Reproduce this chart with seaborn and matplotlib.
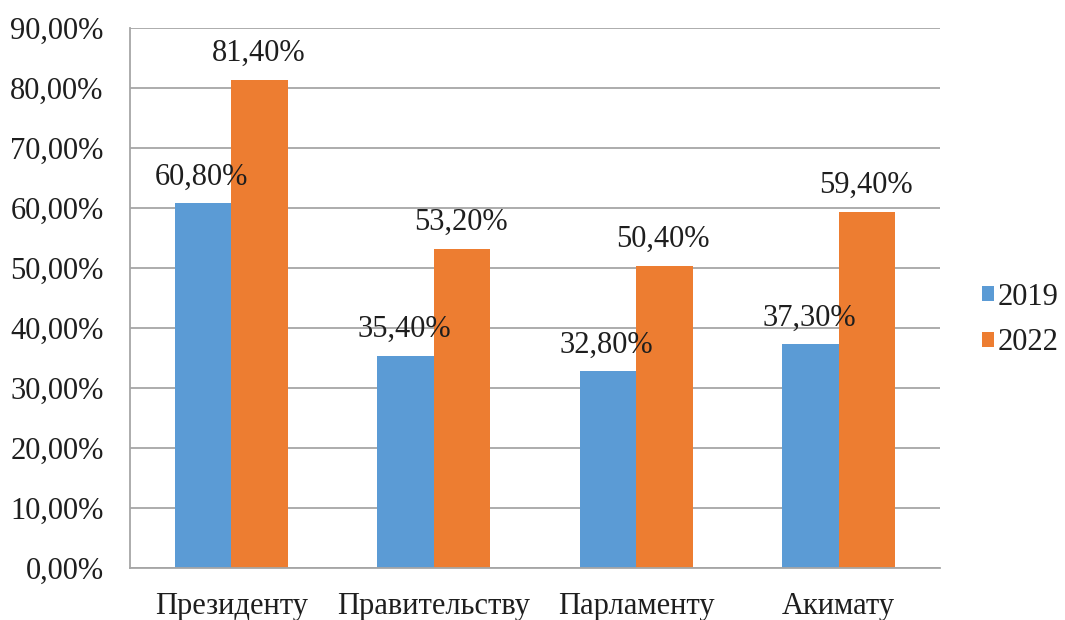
import pandas as pd
import seaborn as sns
import matplotlib.pyplot as plt
from matplotlib.ticker import FuncFormatter, MultipleLocator

#%% data

categories = ["Президенту", "Правительству", "Парламенту", "Акимату"]
years = ["2019", "2022"]
values_2019 = [60.8, 35.4, 32.8, 37.3]
values_2022 = [81.4, 53.2, 50.4, 59.4]

df = pd.DataFrame({
    "cat": categories * 2,
    "year": [years[0]] * 4 + [years[1]] * 4,
    "val": values_2019 + values_2022,
})

#%% style

sns.set_style("white")
plt.rcParams["font.family"] = ["Liberation Serif", "DejaVu Serif"]
plt.rcParams["font.size"] = 22

colors = ["#5B9BD5", "#ED7D31"]
grid_col = "#A6A6A6"
txt_col = "#1e1e1e"
fs = 22

#%% plot

fig = plt.figure(figsize=(10.65, 6.2), dpi=100)
ax = fig.add_axes([130 / 1065, 1 - 568 / 620, 810 / 1065, 540 / 620])

sns.barplot(data=df, x="cat", y="val", hue="year", palette=colors,
            width=0.56, gap=0, saturation=1, linewidth=0, ax=ax)

ax.set_xlim(-0.5, 3.5)
ax.set_ylim(0, 90)
ax.yaxis.set_major_locator(MultipleLocator(10))
ax.yaxis.set_major_formatter(FuncFormatter(lambda v, p: f"{v:.2f}%".replace(".", ",")))
ax.set_xlabel("")
ax.set_ylabel("")

ax.grid(axis="y", color=grid_col, linewidth=1.3)
ax.set_axisbelow(True)
for s in ["top", "right"]:
    ax.spines[s].set_visible(False)
for s in ["left", "bottom"]:
    ax.spines[s].set_color(grid_col)
    ax.spines[s].set_linewidth(1.3)
ax.tick_params(axis="y", length=0, pad=19, labelsize=fs, colors=txt_col)
ax.tick_params(axis="x", length=0, pad=17, labelsize=fs, colors=txt_col)

# value labels
for cont in ax.containers:
    for bar in cont:
        h = bar.get_height()
        ax.annotate(f"{h:.2f}%".replace(".", ","),
                    (bar.get_x() + bar.get_width() / 2, h),
                    xytext=(-1, 13.5), textcoords="offset points",
                    ha="center", va="baseline", fontsize=fs, color=txt_col)

# legend
handles, labels = ax.get_legend_handles_labels()
ax.legend_.remove()
fig.legend(handles, labels, loc="center left",
           bbox_to_anchor=(982 / 1065, 1 - 320 / 620),
           frameon=False, handlelength=0.4, handleheight=0.4,
           handletextpad=0.12, labelspacing=0.55, borderpad=0,
           borderaxespad=0, fontsize=fs, labelcolor=txt_col)

plt.savefig("out.png", dpi=100)
